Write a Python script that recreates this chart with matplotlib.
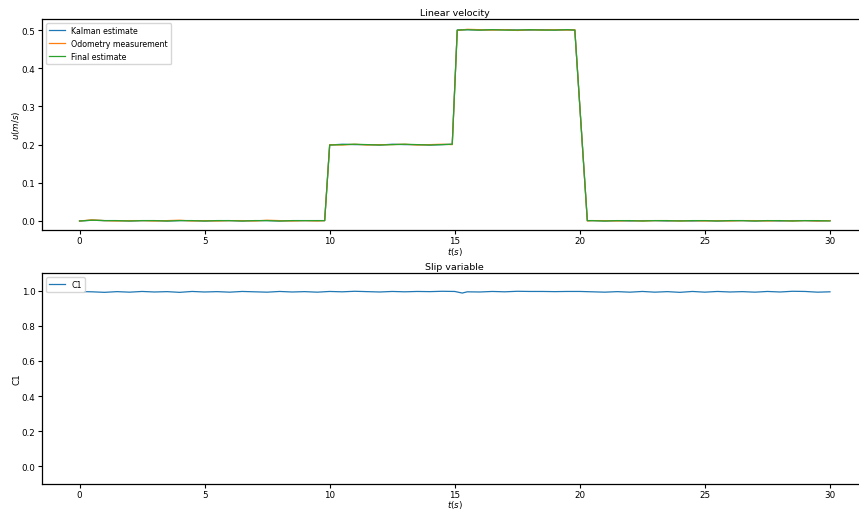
import numpy as np
import matplotlib
matplotlib.use("Agg")
import matplotlib.pyplot as plt

# time stamps for the velocity traces (s)
t = [0.0, 0.5, 1.0, 1.5, 2.0, 2.5, 3.0, 3.5, 4.0, 4.5,
     5.0, 5.5, 6.0, 6.5, 7.0, 7.5, 8.0, 8.5, 9.0, 9.5,
     9.8,
     10.0, 10.5, 11.0, 11.5, 12.0, 12.5, 13.0, 13.5, 14.0, 14.5,
     14.9,
     15.1,
     15.5, 16.0, 16.5, 17.0, 17.5, 18.0, 18.5, 19.0, 19.5,
     19.8,
     20.3,
     20.5, 21.0, 21.5, 22.0, 22.5, 23.0, 23.5, 24.0, 24.5, 25.0,
     25.5, 26.0, 26.5, 27.0, 27.5, 28.0, 28.5, 29.0, 29.5, 30.0]

kalman = [0.000, 0.002, 0.001, 0.001, 0.000, 0.001, 0.001, 0.000, 0.001, 0.001,
          0.000, 0.001, 0.001, 0.000, 0.001, 0.001, 0.000, 0.001, 0.001, 0.001,
          0.001,
          0.199, 0.201, 0.200, 0.200, 0.199, 0.201, 0.200, 0.200, 0.199, 0.200,
          0.201,
          0.500,
          0.501, 0.500, 0.501, 0.501, 0.500, 0.500, 0.501, 0.500, 0.501,
          0.500,
          0.001,
          0.001, 0.000, 0.001, 0.000, 0.001, 0.001, 0.000, 0.001, 0.000, 0.001,
          0.000, 0.001, 0.001, 0.000, 0.001, 0.000, 0.001, 0.001, 0.000, 0.001]

odometry = [0.000, 0.003, 0.001, 0.000, 0.001, 0.001, 0.000, 0.001, 0.002, 0.000,
            0.001, 0.000, 0.001, 0.001, 0.000, 0.002, 0.001, 0.000, 0.001, 0.000,
            0.001,
            0.200, 0.199, 0.201, 0.199, 0.200, 0.200, 0.201, 0.199, 0.200, 0.201,
            0.200,
            0.499,
            0.502, 0.501, 0.500, 0.501, 0.499, 0.501, 0.500, 0.501, 0.500,
            0.501,
            0.000,
            0.001, 0.001, 0.000, 0.001, 0.000, 0.001, 0.001, 0.000, 0.001, 0.000,
            0.001, 0.000, 0.001, 0.001, 0.000, 0.001, 0.000, 0.001, 0.000, 0.001]

final = [0.000, 0.002, 0.001, 0.001, 0.000, 0.001, 0.001, 0.000, 0.001, 0.001,
         0.000, 0.001, 0.001, 0.000, 0.001, 0.001, 0.000, 0.001, 0.001, 0.001,
         0.001,
         0.199, 0.200, 0.201, 0.200, 0.199, 0.200, 0.201, 0.200, 0.199, 0.200,
         0.201,
         0.500,
         0.501, 0.500, 0.501, 0.500, 0.500, 0.501, 0.500, 0.500, 0.501,
         0.500,
         0.001,
         0.001, 0.000, 0.001, 0.001, 0.000, 0.001, 0.001, 0.000, 0.001, 0.001,
         0.000, 0.001, 0.001, 0.000, 0.001, 0.001, 0.000, 0.001, 0.001, 0.000]

# slip variable
t_c1 = [0.2, 0.5, 1.0, 1.5, 2.0, 2.5, 3.0, 3.5, 4.0, 4.5,
        5.0, 5.5, 6.0, 6.5, 7.0, 7.5, 8.0, 8.5, 9.0, 9.5,
        10.0, 10.5, 11.0, 11.5, 12.0, 12.5, 13.0, 13.5, 14.0, 14.5,
        15.0, 15.3, 15.5, 16.0, 16.5, 17.0, 17.5, 18.0, 18.5, 19.0, 19.5,
        20.0, 20.5, 21.0, 21.5, 22.0, 22.5, 23.0, 23.5, 24.0, 24.5,
        25.0, 25.5, 26.0, 26.5, 27.0, 27.5, 28.0, 28.5, 29.0, 29.5, 30.0]
c1 = [0.994, 0.993, 0.990, 0.994, 0.991, 0.995, 0.992, 0.994, 0.990, 0.995,
      0.992, 0.994, 0.991, 0.995, 0.993, 0.991, 0.995, 0.992, 0.994, 0.991,
      0.995, 0.993, 0.996, 0.994, 0.992, 0.995, 0.993, 0.995, 0.994, 0.996,
      0.995, 0.986, 0.993, 0.992, 0.995, 0.993, 0.996, 0.995, 0.995, 0.994, 0.995,
      0.995, 0.993, 0.991, 0.994, 0.991, 0.995, 0.991, 0.994, 0.990, 0.995,
      0.991, 0.995, 0.992, 0.994, 0.991, 0.995, 0.992, 0.996, 0.995, 0.991, 0.993]

fs = 6.3
plt.rcParams.update({"font.size": fs, "xtick.major.size": 2.6, "ytick.major.size": 2.6,
                     "axes.linewidth": 0.9})

fig = plt.figure(figsize=(8.59, 5.10), dpi=100)
ax1 = fig.add_axes([42 / 859, 1 - 231 / 510, (867.5 - 42) / 859, (231 - 20) / 510])
ax2 = fig.add_axes([42 / 859, 1 - 485 / 510, (867.5 - 42) / 859, (485 - 274) / 510])

lw = 0.9
ax1.plot(t, kalman, lw=lw, label="Kalman estimate")
ax1.plot(t, odometry, lw=lw, label="Odometry measurement")
ax1.plot(t, final, lw=lw, label="Final estimate")
ax1.set_title("Linear velocity", fontsize=6.8, pad=3)
ax1.set_xlabel("$t(s)$", fontsize=fs, labelpad=-0.5)
ax1.set_ylabel("$u(m/s)$", fontsize=fs, labelpad=0)
ax1.set_xlim(-1.5, 31.5)
ax1.set_ylim(-0.0236, 0.529)
ax1.legend(loc="upper left", fontsize=5.7, handlelength=2.0)

ax2.plot(t_c1, c1, lw=lw, label="C1")
ax2.set_title("Slip variable", fontsize=6.8, pad=3)
ax2.set_xlabel("$t(s)$", fontsize=fs, labelpad=-1)
ax2.set_ylabel("C1", fontsize=fs, labelpad=0)
ax2.set_xlim(-1.5, 31.5)
ax2.set_ylim(-0.1, 1.1)
ax2.legend(loc="upper left", fontsize=5.7, handlelength=2.0)

for ax in (ax1, ax2):
    ax.tick_params(labelsize=fs, pad=2)

fig.savefig("out.png", dpi=100)
